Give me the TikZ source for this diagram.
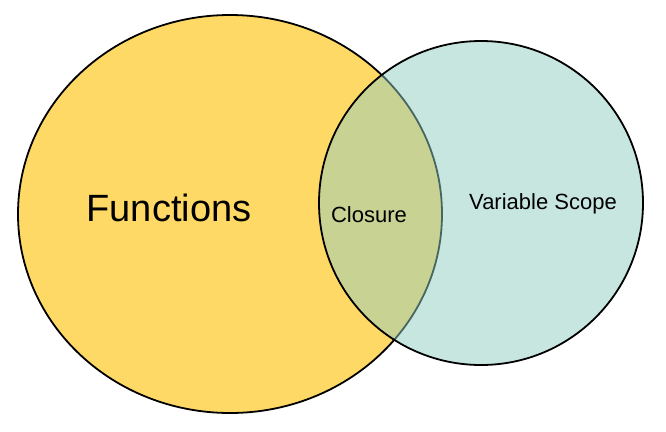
\documentclass[tikz,border=0pt]{standalone}
\usepackage{fontspec}
\setmainfont{Liberation Sans}

\definecolor{funcyellow}{RGB}{255,217,102}
\definecolor{scopeteal}{RGB}{145,205,193}

\tikzset{
  setborder/.style={draw=black, line width=1.8pt},
  setlabel/.style={anchor=base, inner sep=0pt}
}

\begin{document}
\begin{tikzpicture}[x=1pt, y=-1pt]
        \useasboundingbox (0,0) rectangle (666,431);

        % centri dei due insiemi
        \coordinate (F) at (230,214);
        \coordinate (S) at (481,203);

        % insieme Functions (giallo)
        \draw[setborder, fill=funcyellow] (F) ellipse [x radius=212, y radius=199];

        % insieme Variable Scope (semitrasparente, sopra il giallo)
        \draw[setborder, fill=scopeteal, fill opacity=0.5] (S) circle [radius=162];

        % etichette
        \node[setlabel] (fun) at (169,221) {\fontsize{38}{40}\selectfont Functions};
        \node[setlabel] (clo) at (369,222) {\fontsize{22}{24}\selectfont Closure};
        \node[setlabel] (var) at (543,209) {\fontsize{22}{24}\selectfont Variable Scope};
    \end{tikzpicture}
\end{document}
